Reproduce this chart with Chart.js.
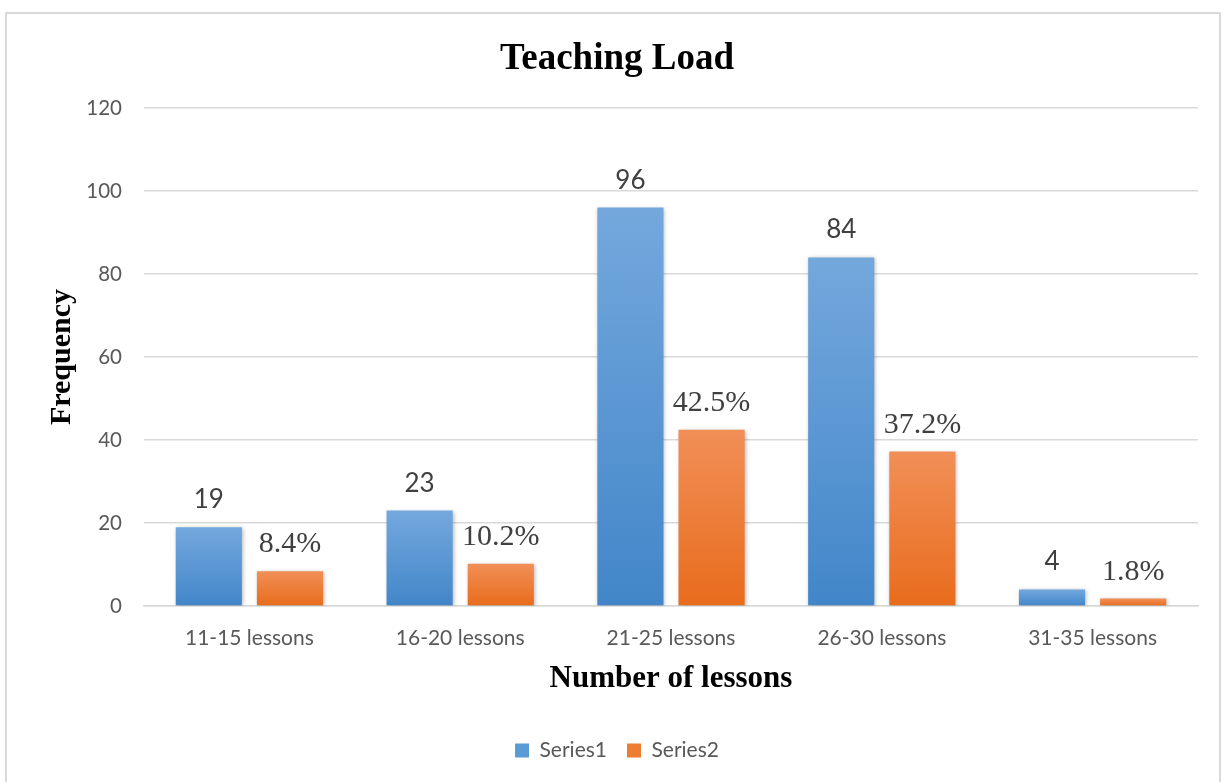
<!DOCTYPE html>
<html lang="en">
<head>
  <meta charset="UTF-8" />
  <title>Teaching Load</title>
  <script src="https://cdn.jsdelivr.net/npm/chart.js"></script>
  <style>
    html, body {
      margin: 0;
      padding: 0;
      background: #ffffff;
    }

    .frame {
      position: absolute;
      left: 5px;
      top: 12px;
      width: 1216px;
      height: 800px;
      border: 2px solid #d9d9d9;
      box-sizing: border-box;
    }

    .chart-box {
      position: absolute;
      left: 0;
      top: 0;
      width: 1227px;
      height: 782px;
    }
  </style>
</head>
<body>
  <div class="frame"></div>
  <div class="chart-box">
    <canvas id="loadChart" width="1227" height="782"></canvas>
  </div>

  <script>
    const categories = ['11-15 lessons', '16-20 lessons', '21-25 lessons', '26-30 lessons', '31-35 lessons'];
    const seriesNames = ['Series1', 'Series2'];
    const frequency = [19, 23, 96, 84, 4];
    const percent = [8.4, 10.2, 42.5, 37.2, 1.8];
    const yTicks = [0, 20, 40, 60, 80, 100, 120];

    const SANS = 'Lato';
    const SERIF = 'Liberation Serif';

    // vertical gradient per bar, light at the top
    function barFill(topColor, bottomColor) {
      return function(context) {
        const chart = context.chart;
        const y = chart.scales.y;
        if (!chart.chartArea || !y || context.raw == null) return bottomColor;
        const yTop = y.getPixelForValue(context.raw);
        const yBase = y.getPixelForValue(0);
        const g = chart.ctx.createLinearGradient(0, yTop, 0, yBase);
        g.addColorStop(0, topColor);
        g.addColorStop(1, bottomColor);
        return g;
      };
    }

    // soft shadow under the bars + value labels above them
    const barDecor = {
      id: 'barDecor',
      beforeDatasetsDraw(chart) {
        const ctx = chart.ctx;
        ctx.save();
        ctx.shadowColor = 'rgba(0, 0, 0, 0.28)';
        ctx.shadowBlur = 4;
        ctx.shadowOffsetX = 1;
        ctx.shadowOffsetY = 1;
      },
      afterDatasetsDraw(chart) {
        const ctx = chart.ctx;
        ctx.restore();
        ctx.save();
        ctx.fillStyle = '#404040';
        ctx.textAlign = 'center';
        ctx.textBaseline = 'alphabetic';
        chart.data.datasets.forEach((ds, i) => {
          const meta = chart.getDatasetMeta(i);
          ctx.font = i === 0 ? `26px ${SANS}` : `30px "${SERIF}"`;
          meta.data.forEach((bar, j) => {
            const v = ds.data[j];
            const text = i === 0 ? String(v) : v.toFixed(1) + '%';
            ctx.fillText(text, bar.x, bar.y - 19);
          });
        });
        ctx.restore();
      }
    };

    const ctx = document.getElementById('loadChart').getContext('2d');

    new Chart(ctx, {
      type: 'bar',
      data: {
        labels: categories,
        datasets: [
          {
            label: seriesNames[0],
            data: frequency,
            backgroundColor: barFill('#74a8dd', '#4286c9'),
            categoryPercentage: 0.77,
            barPercentage: 0.815
          },
          {
            label: seriesNames[1],
            data: percent,
            backgroundColor: barFill('#f18f57', '#e86c1c'),
            categoryPercentage: 0.77,
            barPercentage: 0.815
          }
        ]
      },
      options: {
        responsive: false,
        animation: false,
        events: [],
        layout: {
          padding: { left: 7, right: 0, top: 0, bottom: 11 }
        },
        plugins: {
          title: {
            display: true,
            text: 'Teaching Load',
            color: '#000000',
            font: { family: SERIF, size: 37, weight: 'bold' },
            padding: { top: 37, bottom: 26.6 }
          },
          legend: {
            position: 'bottom',
            labels: {
              boxWidth: 14,
              boxHeight: 14,
              padding: 20,
              color: '#595959',
              font: { family: SANS, size: 21 },
              generateLabels: function(chart) {
                const fills = ['#5b9bd5', '#ed7d31'];
                return chart.data.datasets.map((ds, i) => ({
                  text: ds.label,
                  fillStyle: fills[i],
                  strokeStyle: fills[i],
                  lineWidth: 0,
                  fontColor: '#595959',
                  datasetIndex: i
                }));
              }
            }
          },
          tooltip: { enabled: false }
        },
        scales: {
          x: {
            grid: { display: false },
            border: { display: true, color: '#d9d9d9', width: 1.5 },
            ticks: {
              color: '#595959',
              font: { family: SANS, size: 21 },
              padding: 12
            },
            title: {
              display: true,
              text: 'Number of lessons',
              color: '#000000',
              font: { family: SERIF, size: 31, weight: 'bold' },
              padding: { top: 0, bottom: 22 }
            },
            afterFit: function(scale) {
              scale.height = 114;
            }
          },
          y: {
            min: 0,
            max: 120,
            afterBuildTicks: function(scale) {
              scale.ticks = yTicks.map(v => ({ value: v }));
            },
            ticks: {
              color: '#595959',
              font: { family: SANS, size: 20.5 },
              padding: 22
            },
            grid: { color: '#d9d9d9', lineWidth: 1.5, drawTicks: false },
            border: { display: false },
            title: {
              display: true,
              text: 'Frequency',
              color: '#000000',
              font: { family: SERIF, size: 30, weight: 'bold' },
              padding: { top: 37, bottom: 0 }
            },
            afterFit: function(scale) {
              scale.width = 137;
            }
          },
          // empty right-hand margin so the title and legend centre on the frame
          margin: {
            position: 'right',
            display: true,
            grid: { display: false },
            border: { display: false },
            ticks: { display: false },
            afterFit: function(scale) {
              scale.width = 29;
            }
          }
        }
      },
      plugins: [barDecor]
    });
  </script>
</body>
</html>
